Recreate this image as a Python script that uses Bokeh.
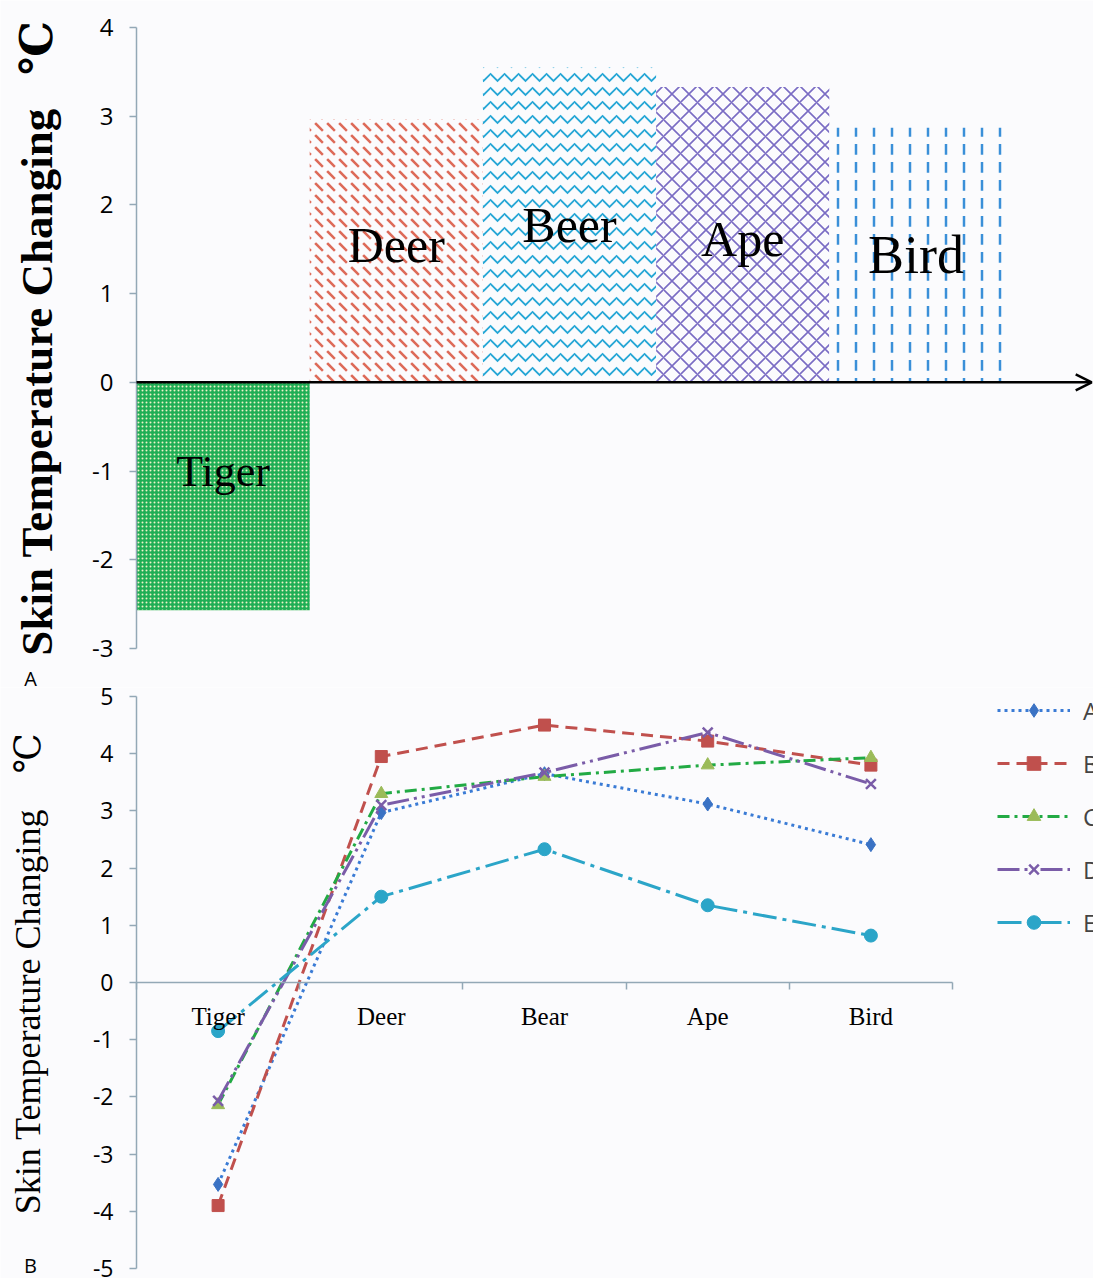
from bokeh.plotting import figure
from bokeh.models import (ColumnDataSource, FixedTicker, Arrow, OpenHead,
                          Legend, LegendItem)
from bokeh.layouts import column
from bokeh.embed import file_html
from bokeh.resources import INLINE
from bokeh.core.properties import value

# ---------------- data ----------------
bar_animals = ["Tiger", "Deer", "Beer", "Ape", "Bird"]
bar_values = [-2.57, 2.97, 3.55, 3.33, 2.87]

categories = ["Tiger", "Deer", "Bear", "Ape", "Bird"]
series_names = ["A", "B", "C", "D", "E"]
series_A = [-3.53, 2.97, 3.65, 3.12, 2.41]
series_B = [-3.90, 3.95, 4.50, 4.22, 3.80]
series_C = [-2.14, 3.30, 3.60, 3.80, 3.93]
series_D = [-2.07, 3.10, 3.67, 4.37, 3.47]
series_E = [-0.85, 1.50, 2.33, 1.35, 0.82]

top_ticks = [-3, -2, -1, 0, 1, 2, 3, 4]
bottom_ticks = [-5, -4, -3, -2, -1, 0, 1, 2, 3, 4, 5]
panel_letters = ["A", "B"]

# ---------------- styles / placement ----------------
BG = "#fbfbfd"
AXIS_COL = "#93a8b6"
W = 1093
SERIF = "'Liberation Serif', 'DejaVu Serif', serif"
NB = "\u00a0"
bar_fill = ["#1fae55", BG, BG, BG, BG]
bar_hatch = ["dot", "left_diagonal_dash", "horizontal_wave", "diagonal_cross", "vertical_dash"]
bar_hatch_color = ["#eef3c8", "#dd6a58", "#27a7d6", "#7a6cc4", "#3a8fd8"]
bar_hatch_scale = [4, 12, 14, 17, 18]
bar_hatch_weight = [1.2, 2.5, 1.8, 1.6, 2.5]
bar_label_y = [-1.0, 1.55, 1.77, 1.62, 1.43]
bar_label_size = ["44px", "50px", "50px", "50px", "54px"]
letter_pos_top = (-0.612, -3.335)
letter_pos_bot = (-0.6495, -4.945)


def style_y(ax, ticks, size):
    ax.fixed_location = 0
    ax.ticker = FixedTicker(ticks=ticks)
    ax.major_label_overrides = {t: str(t) for t in ticks}
    ax.minor_tick_line_color = None
    ax.axis_line_color = AXIS_COL
    ax.major_tick_line_color = AXIS_COL
    ax.axis_line_width = 1.5
    ax.major_tick_line_width = 1.5
    ax.major_tick_out = 7
    ax.major_tick_in = 0
    ax.major_label_text_font = "Open Sans"
    ax.major_label_text_font_size = size
    ax.major_label_text_color = "black"
    ax.major_label_standoff = 16
    ax.bounds = (ticks[0], ticks[-1])


def base_fig(h, xr, yr, **kw):
    p = figure(width=W, height=h, x_range=xr, y_range=yr, output_backend="svg",
               toolbar_location=None, min_border_left=0, min_border_right=0,
               min_border_top=0, min_border_bottom=0, **kw)
    p.background_fill_color = BG
    p.border_fill_color = BG
    p.outline_line_color = None
    p.grid.visible = False
    return p


# ---------------- top panel (A) ----------------
top = base_fig(687, (-0.7852, 5.5254), (-3.4397, 4.3044), x_axis_location=None)

idx = list(range(len(bar_animals)))
src = ColumnDataSource(dict(
    x=[i + 0.5 for i in idx], top=bar_values, fill=bar_fill, hatch=bar_hatch,
    hcol=bar_hatch_color, hscale=bar_hatch_scale, hweight=bar_hatch_weight,
    ly=bar_label_y, name=bar_animals, lsize=bar_label_size))
top.vbar(x="x", top="top", bottom=0, width=1.0, source=src, fill_color="fill",
         line_color=None, hatch_pattern="hatch", hatch_color="hcol",
         hatch_scale="hscale", hatch_weight="hweight")
top.text(x="x", y="ly", text="name", source=src, text_align="center",
         text_baseline="middle", text_font=value("Liberation Serif"),
         text_font_size="lsize", text_color="black")

top.add_layout(Arrow(x_start=0, y_start=0, x_end=5.515, y_end=0, line_width=2.5,
                     line_color="black",
                     end=OpenHead(size=16, line_width=2.5, line_color="black")))

ya = top.yaxis[0]
style_y(ya, top_ticks, "24px")
ya.axis_label = "Skin Temperature Changing" + NB * 3 + "\u2103"
ya.axis_label_text_font = SERIF
ya.axis_label_text_font_style = "bold"
ya.axis_label_text_font_size = "45px"
ya.axis_label_text_color = "black"
ya.axis_label_standoff = 27

top.text(x=[letter_pos_top[0]], y=[letter_pos_top[1]], text=[panel_letters[0]],
         text_align="center", text_baseline="middle", text_font=value("Open Sans"),
         text_font_size="20px", text_color="black")

# ---------------- bottom panel (B) ----------------
bot = base_fig(591, (-0.8333, 5.864), (-5.175, 5.157))

xa = bot.xaxis[0]
xa.fixed_location = 0
xa.bounds = (0, len(categories))
xa.ticker = FixedTicker(ticks=[i + 0.5 for i in idx], minor_ticks=list(range(len(categories) + 1)))
xa.major_label_overrides = {i + 0.5: c for i, c in enumerate(categories)}
xa.major_tick_line_color = None
xa.major_tick_out = 0
xa.minor_tick_out = 7
xa.minor_tick_in = 0
xa.minor_tick_line_color = AXIS_COL
xa.minor_tick_line_width = 1.5
xa.axis_line_color = AXIS_COL
xa.axis_line_width = 1.5
xa.major_label_standoff = 14
xa.major_label_text_font = "Liberation Serif"
xa.major_label_text_font_size = "25px"
xa.major_label_text_color = "black"

yb = bot.yaxis[0]
style_y(yb, bottom_ticks, "23px")
yb.axis_label = NB * 2 + "Skin Temperature Changing" + NB * 4 + "\u2103"
yb.axis_label_text_font = SERIF
yb.axis_label_text_font_style = "normal"
yb.axis_label_text_font_size = "36px"
yb.axis_label_text_color = "black"
yb.axis_label_standoff = 42

bot.text(x=[letter_pos_bot[0]], y=[letter_pos_bot[1]], text=[panel_letters[1]],
         text_align="center", text_baseline="middle", text_font=value("Open Sans"),
         text_font_size="20px", text_color="black")

xs = [i + 0.5 for i in idx]
series = [series_A, series_B, series_C, series_D, series_E]
line_colors = ["#3a7bd5", "#c0504d", "#22aa44", "#7a5ca8", "#2ba5c8"]
marker_colors = ["#3a72c4", "#c0504d", "#9bbb59", "#7a5ca8", "#2ba5c8"]
dashes = ["3 4", "12 7", "12 5 3 5", "22 5 3 5 3 5", "24 6 4 6"]
markers = ["diamond", "square", "triangle", "x", "circle"]
msizes = [14, 12, 13, 14, 13]

items = []
for name, ys, lc, mc, dsh, mk, ms in zip(series_names, series, line_colors,
                                         marker_colors, dashes, markers, msizes):
    lr = bot.line(xs, ys, line_color=lc, line_width=3, line_dash=dsh)
    sr = bot.scatter(xs, ys, marker=mk, size=ms, fill_color=mc, line_color=mc,
                     line_width=2.5 if mk == "x" else 1)
    items.append(LegendItem(label=name, renderers=[lr, sr]))

legend = Legend(items=items, location=(997, 339), glyph_width=73, glyph_height=34,
                label_height=34, label_standoff=13, spacing=19, padding=0, margin=0,
                background_fill_alpha=0, border_line_alpha=0,
                label_text_font="Open Sans", label_text_font_size="24px")
bot.add_layout(legend)

layout = column(top, bot, spacing=0)
open("out.html", "w").write(file_html(layout, INLINE))
